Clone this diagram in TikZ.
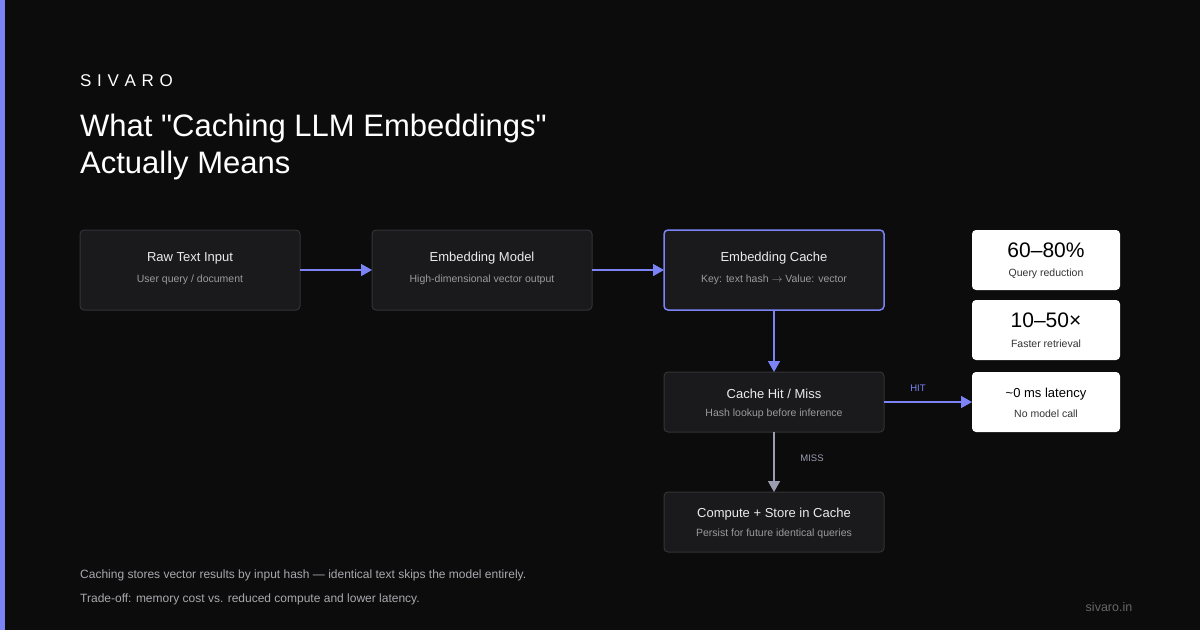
\documentclass[tikz,border=0pt]{standalone}
\usepackage{fontspec}
\setmainfont{Liberation Sans}
\usetikzlibrary{arrows.meta}
\definecolor{bg}{HTML}{0C0C0D}
\definecolor{acc}{HTML}{7B83F5}
\definecolor{boxf}{HTML}{1A1A1C}
\definecolor{boxd}{HTML}{333336}
\definecolor{sub}{HTML}{9A9AA0}
\definecolor{gr}{HTML}{9A9DB0}
\begin{document}
\begin{tikzpicture}[x=1pt,y=-1pt,
 box/.style={draw=boxd,line width=1pt,fill=boxf,rounded corners=4pt},
 wbox/.style={fill=white,rounded corners=4pt},
 ttl/.style={text=white!92!black,font=\fontsize{13}{15}\selectfont},
 st/.style={text=sub,font=\fontsize{10.5}{12}\selectfont},
 arr/.style={acc,line width=1.5pt,-{Triangle[length=11pt,width=12pt]}}]
\fill[bg] (0,0) rectangle (1200,630);
\useasboundingbox (0,0) rectangle (1200,630);
\fill[acc] (0,0) rectangle (5,630);
\node[anchor=west,text=white,font=\fontsize{17}{20}\selectfont,inner sep=0] (brand) at (80,81) {S\,\,I\,\,V\,\,A\,\,R\,\,O};
\node[anchor=north west,text=white,align=left,font=\fontsize{31}{37}\selectfont,inner sep=0] (title) at (80,114) {What \textquotedbl Caching LLM Embeddings\textquotedbl\\Actually Means};
% boxes
\draw[box] (80,230) rectangle (300,310);
\draw[box] (372,230) rectangle (592,310);
\draw[box,draw=acc,line width=1.5pt] (664,230) rectangle (884,310);
\draw[box] (664,372) rectangle (884,432);
\draw[box] (664,492) rectangle (884,552);
\node[ttl] (at) at (190,258) {Raw Text Input}; \node[st] (as) at (190,280) {User query / document};
\node[ttl] (bt) at (482,258) {Embedding Model}; \node[st] (bs) at (482,280) {High-dimensional vector output};
\node[ttl] (ct) at (774,258) {Embedding Cache}; \node[st] (cs) at (774,280) {Key: text hash $\rightarrow$ Value: vector};
\node[ttl] (dt) at (774,394) {Cache Hit / Miss}; \node[st] (ds) at (774,414) {Hash lookup before inference};
\node[ttl] (et) at (774,514) {Compute + Store in Cache}; \node[st] (es) at (774,534) {Persist for future identical queries};
% stats
\fill[wbox] (972,230) rectangle (1120,290);
\fill[wbox] (972,300) rectangle (1120,360);
\fill[wbox] (972,372) rectangle (1120,432);
\node[font=\fontsize{21}{24}\selectfont] (s1) at (1046,250) {60–80\%};
\node[font=\fontsize{10.5}{12}\selectfont,text=black!80] (s1s) at (1046,274) {Query reduction};
\node[font=\fontsize{21}{24}\selectfont] (s2) at (1046,320) {10–50×};
\node[font=\fontsize{10.5}{12}\selectfont,text=black!80] (s2s) at (1046,344) {Faster retrieval};
\node[font=\fontsize{13}{15}\selectfont] (s3) at (1046,394) {\textasciitilde0 ms latency};
\node[font=\fontsize{10.5}{12}\selectfont,text=black!80] (s3s) at (1046,414) {No model call};
% arrows
\draw[arr] (300,270) -- (372,270);
\draw[arr] (592,270) -- (664,270);
\draw[arr] (774,310) -- (774,372);
\draw[arr] (884,402) -- (972,402);
\draw[gr,line width=1.5pt,-{Triangle[length=11pt,width=12pt]}] (774,432) -- (774,492);
\node[text=acc,font=\fontsize{9.5}{11}\selectfont] (hit) at (918,388) {HIT};
\node[text=gr,font=\fontsize{9.5}{11}\selectfont] (miss) at (812,458) {MISS};
\node[anchor=west,text=sub!85!white,align=left,font=\fontsize{12}{24}\selectfont,inner sep=0] (foot) at (80,587) {Caching stores vector results by input hash — identical text skips the model entirely.\\Trade-off: memory cost vs. reduced compute and lower latency.};
\node[text=black!60!white,font=\fontsize{12.5}{14}\selectfont] (url) at (1109,607) {sivaro.in};
\end{tikzpicture}
\end{document}
